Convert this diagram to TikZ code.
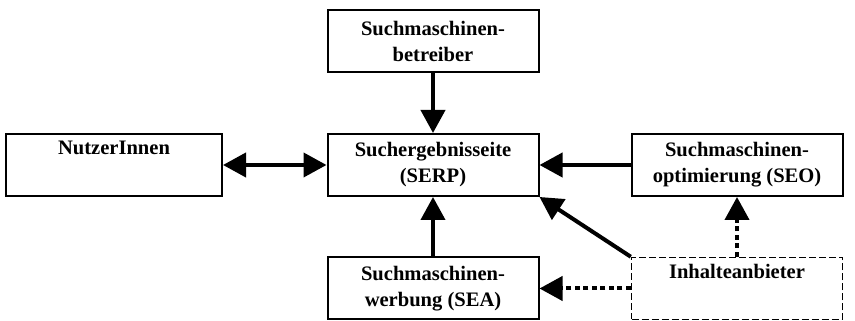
\documentclass[tikz,border=0pt]{standalone}
\usepackage{fontspec}
\setmainfont{Liberation Serif}
\usepackage{tikz}
\usetikzlibrary{arrows.meta,positioning}
\definecolor{linie}{HTML}{000000}

\begin{document}
\begin{tikzpicture}[
  kasten/.style={draw=linie,line width=0.04cm,minimum width=4.22cm,minimum height=1.24cm,align=center,inner sep=0pt,
    font=\bfseries\fontsize{11.7}{14.8}\selectfont},
  offen/.style={kasten,line width=0.03cm,dash pattern=on 0.14cm off 0.06cm},
  pfeil/.style={draw=linie,line width=0.08cm,-{Triangle[length=0.46cm,width=0.48cm]}},
  punkte/.style={pfeil,dash pattern=on 0.1cm off 0.07cm}]
\useasboundingbox (0,0) rectangle (17.1,6.42);
\node[kasten] (betreiber) at (8.66,5.6) {Suchmaschinen-\\betreiber};
\node[kasten] (serp) at (8.66,3.12) {Suchergebnisseite\\(SERP)};
\node[kasten,minimum width=4.32cm] (nutzer) at (2.28,3.12) {NutzerInnen\\\strut};
\node[kasten] (seo) at (14.74,3.12) {Suchmaschinen-\\optimierung (SEO)};
\node[kasten] (sea) at (8.66,0.65) {Suchmaschinen-\\werbung (SEA)};
\node[offen] (inhalt) at (14.74,0.65) {Inhalteanbieter\\\strut};
% Pfeile
\draw[pfeil] (betreiber) -- (serp);
\draw[pfeil,{Triangle[length=0.46cm,width=0.48cm]}-{Triangle[length=0.46cm,width=0.48cm]}] (nutzer) -- (serp);
\draw[pfeil] (seo) -- (serp);
\draw[pfeil] (sea) -- (serp);
\draw[pfeil] (inhalt.north west) -- (serp.south east);
\draw[punkte] (inhalt) -- (sea);
\draw[punkte] (inhalt) -- (seo);
\end{tikzpicture}
\end{document}
